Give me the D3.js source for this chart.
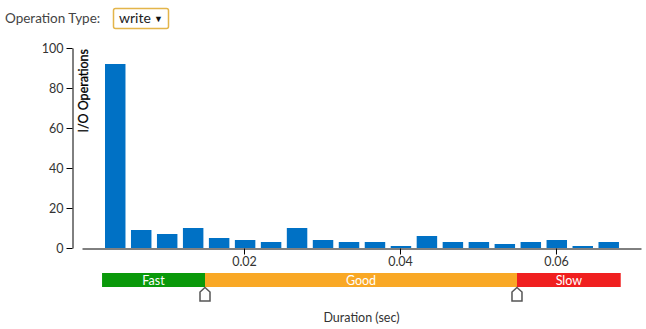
<!DOCTYPE html>
<html>
<head>
<meta charset="utf-8">
<script src="https://cdn.jsdelivr.net/npm/d3@7"></script>
<style>
  body { margin: 0; background: #fff; font-family: Lato, sans-serif; }
  text { font-family: Lato, sans-serif; }
</style>
</head>
<body>
<div id="plot"></div>
<script>
// histogram of write durations
const counts = [92, 9, 7, 10, 5, 4, 3, 10, 4, 3, 3, 1, 6, 3, 3, 2, 3, 4, 1, 3];
const binStart = 0.00218;   // left edge of first bin (sec)
const binStep = 0.00333;    // bin width (sec)

const yTicks = [0, 20, 40, 60, 80, 100];
const xTicks = [0.02, 0.04, 0.06];

// speed bands under the axis
const bandNames = ["Fast", "Good", "Slow"];
const bandEdges = [0.0018, 0.015, 0.055, 0.0683];
const bandColors = ["#0a990a", "#f9a825", "#f01f1f"];
const markers = [0.015, 0.055];

const width = 646, height = 329;

const svg = d3.select("div#plot")
  .append("svg")
  .attr("width", width)
  .attr("height", height);

// dropdown (drawn, not interactive)
svg.append("text")
  .attr("x", 5)
  .attr("y", 23)
  .style("font-size", "13.5px")
  .style("fill", "#444")
  .text("Operation Type:");

svg.append("rect")
  .attr("x", 113.5)
  .attr("y", 8.5)
  .attr("width", 55)
  .attr("height", 20)
  .attr("rx", 2)
  .attr("fill", "#fff")
  .attr("stroke", "#e3b54a")
  .attr("stroke-width", 1.5);

svg.append("text")
  .attr("x", 119)
  .attr("y", 23)
  .style("font-size", "14px")
  .style("fill", "#222")
  .text("write");

svg.append("text")
  .attr("x", 154)
  .attr("y", 22)
  .style("font-size", "9px")
  .style("fill", "#111")
  .text("▼");

// scales
const x = d3.scaleLinear()
  .domain([-0.00077, 0.0709])
  .range([82, 641]);

const y = d3.scaleLinear()
  .domain([0, 100])
  .range([248, 48]);

// Y axis
svg.append("g")
  .attr("transform", "translate(72.5,0)")
  .call(d3.axisLeft(y).tickValues(yTicks).tickSizeOuter(0))
  .call(g => g.selectAll("text").style("font-size", "12.5px").style("fill", "#333").attr("font-family", "Lato"));

svg.append("text")
  .attr("transform", "translate(88,49) rotate(-90)")
  .attr("text-anchor", "end")
  .style("font-size", "12.5px")
  .style("fill", "#000")
  .style("stroke", "#000")
  .style("stroke-width", 0.3)
  .text("I/O Operations");

// bars
svg.selectAll("rect.bar")
  .data(counts)
  .join("rect")
  .attr("class", "bar")
  .attr("x", (d, i) => x(binStart + i * binStep))
  .attr("y", d => y(d))
  .attr("width", (d, i) => x(binStart + (i + 1) * binStep) - x(binStart + i * binStep) - 5.5)
  .attr("height", d => y(0) - y(d))
  .attr("fill", "#0071c5");

// X axis
svg.append("g")
  .attr("transform", "translate(0,248.5)")
  .call(d3.axisBottom(x).tickValues(xTicks).tickFormat(d3.format(".2f")).tickSizeOuter(0))
  .call(g => g.selectAll("text").style("font-size", "12.5px").style("fill", "#333").attr("font-family", "Lato"));

// speed bands
const bands = bandNames.map((n, i) => ({name: n, x0: bandEdges[i], x1: bandEdges[i + 1], color: bandColors[i]}));

svg.selectAll("rect.band")
  .data(bands)
  .join("rect")
  .attr("class", "band")
  .attr("x", d => x(d.x0))
  .attr("y", 273)
  .attr("width", d => x(d.x1) - x(d.x0))
  .attr("height", 14)
  .attr("fill", d => d.color);

svg.selectAll("text.band")
  .data(bands)
  .join("text")
  .attr("class", "band")
  .attr("x", d => (x(d.x0) + x(d.x1)) / 2)
  .attr("y", 284.5)
  .attr("text-anchor", "middle")
  .style("font-size", "12.5px")
  .style("fill", "#fff")
  .text(d => d.name);

// threshold handles
svg.selectAll("path.marker")
  .data(markers)
  .join("path")
  .attr("class", "marker")
  .attr("d", d => {
    const cx = x(d);
    return `M${cx},287.5 L${cx + 5},292 L${cx + 5},301 L${cx - 5},301 L${cx - 5},292 Z`;
  })
  .attr("fill", "#fff")
  .attr("stroke", "#555")
  .attr("stroke-width", 1.5);

svg.append("text")
  .attr("x", (x.range()[0] + x.range()[1]) / 2)
  .attr("y", 322)
  .attr("text-anchor", "middle")
  .style("font-size", "12.5px")
  .style("fill", "#333")
  .text("Duration (sec)");
</script>
</body>
</html>
